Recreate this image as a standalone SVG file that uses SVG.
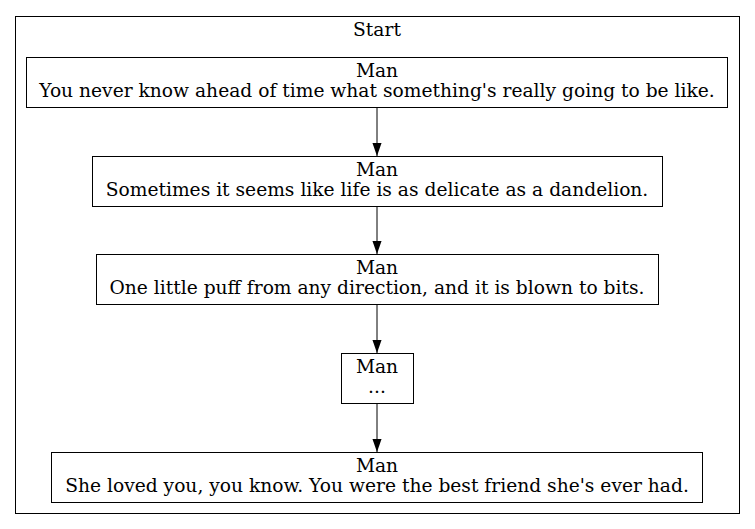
<svg xmlns="http://www.w3.org/2000/svg" width="755" height="529" viewBox="0 0 755 529">
<defs>
<style>
text{font-family:"DejaVu Serif","Liberation Serif",serif;font-size:18.67px;text-anchor:middle;fill:#000}
.box{fill:#fff;stroke:#000;stroke-width:1}
.edge{stroke:#000;stroke-width:1;fill:none}
</style>
<marker id="arr" markerWidth="13.3" markerHeight="9.3" refX="13.3" refY="4.65" orient="auto" markerUnits="userSpaceOnUse" viewBox="0 0 13.3 9.3">
<path d="M0,0 L13.3,4.65 L0,9.3 Z" fill="#000"/>
</marker>
</defs>
<rect width="755" height="529" fill="#fff"/>
<g id="cluster_start">
<rect x="15.5" y="16.5" width="724" height="497" fill="none" stroke="#000"/>
<text x="377" y="36">Start</text>
</g>
<g id="connectors">
<line class="edge" x1="377" y1="107" x2="377" y2="156" marker-end="url(#arr)"/>
<line class="edge" x1="377" y1="206" x2="377" y2="254" marker-end="url(#arr)"/>
<line class="edge" x1="377" y1="304" x2="377" y2="353" marker-end="url(#arr)"/>
<line class="edge" x1="377" y1="403" x2="377" y2="452" marker-end="url(#arr)"/>
</g>
<g id="node1">
<rect class="box" x="26.5" y="57.5" width="701" height="50"/>
<text x="377" y="77">Man</text>
<text x="377" y="97">You never know ahead of time what something's really going to be like.</text>
</g>
<g id="node2">
<rect class="box" x="92.5" y="156.5" width="570" height="50"/>
<text x="377" y="176">Man</text>
<text x="377" y="196">Sometimes it seems like life is as delicate as a dandelion.</text>
</g>
<g id="node3">
<rect class="box" x="96.5" y="254.5" width="562" height="50"/>
<text x="377" y="274">Man</text>
<text x="377" y="294">One little puff from any direction, and it is blown to bits.</text>
</g>
<g id="node4">
<rect class="box" x="341.5" y="353.5" width="72" height="50"/>
<text x="377" y="373">Man</text>
<text x="377" y="393">...</text>
</g>
<g id="node5">
<rect class="box" x="51.5" y="452.5" width="651" height="50"/>
<text x="377" y="472">Man</text>
<text x="377" y="492">She loved you, you know. You were the best friend she's ever had.</text>
</g>
</svg>
